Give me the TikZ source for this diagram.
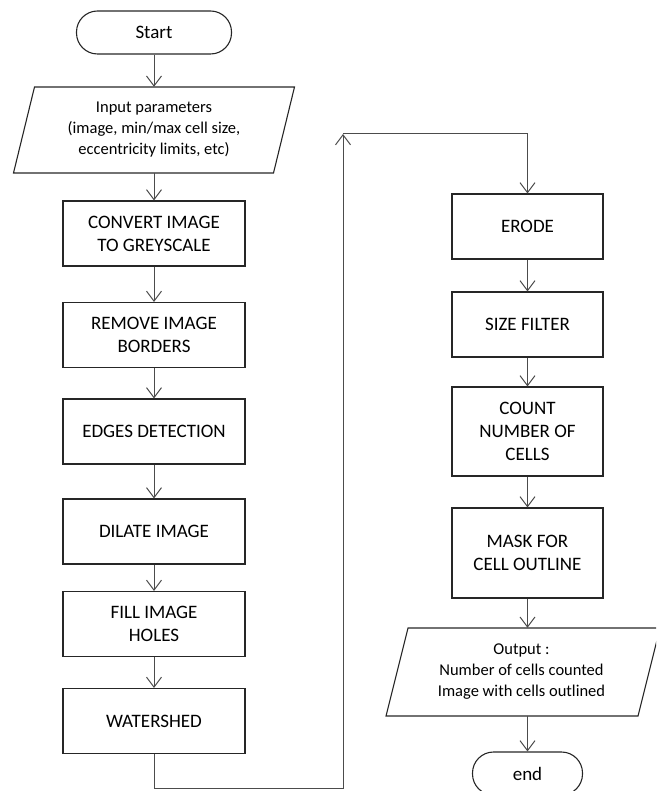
\documentclass[tikz,border=0pt]{standalone}
\usepackage{fontspec}
\setmainfont{Carlito}
\usetikzlibrary{arrows.meta}
\tikzset{
  boxl/.style={draw=black!85, line width=1.1pt, minimum width=182pt, minimum height=65pt, align=center, font=\fontsize{19}{23}\selectfont, inner sep=0pt},
  boxr/.style={boxl, minimum width=151pt},
  term/.style={draw=black!85, line width=1.1pt, rounded corners=21pt, minimum height=43pt, font=\fontsize{19}{23}\selectfont, inner sep=0pt},
  io/.style={align=center, font=\fontsize{16.5}{21}\selectfont, inner sep=0pt},
  para/.style={draw=black!85, line width=1.1pt},
  arr/.style={draw=black!70, line width=1pt, -{Straight Barb[length=10pt,width=15pt,line width=1pt]}},
  ln/.style={draw=black!70, line width=1pt}
}
\begin{document}
\begin{tikzpicture}[x=1pt,y=1pt]
\useasboundingbox (0,0) rectangle (656,-791);
\clip (0,0) rectangle (656,-791);
% left column
\node[term, minimum width=155pt] (st) at (154,-32.5) {Start};
\node[io, minimum width=260pt, minimum height=86pt] (in) at (154,-130) {Input parameters\\(image, min/max cell size,\\eccentricity limits, etc)};
\draw[para] (34.5,-87) -- (294.5,-87) -- (273.5,-173) -- (13.5,-173) -- cycle;
\node[boxl] (cv) at (154,-233.5) {CONVERT IMAGE\\TO GREYSCALE};
\node[boxl] (rm) at (154,-335) {REMOVE IMAGE\\BORDERS};
\node[boxl] (ed) at (154,-431.5) {EDGES DETECTION};
\node[boxl] (di) at (154,-531.5) {DILATE IMAGE};
\node[boxl] (fi) at (154,-624) {FILL IMAGE\\HOLES};
\node[boxl] (ws) at (154,-721) {WATERSHED};
% right column
\node[boxr] (er) at (527.5,-226.5) {ERODE};
\node[boxr] (sf) at (527.5,-324.5) {SIZE FILTER};
\node[boxr, minimum height=89pt] (cc) at (527.5,-431.5) {COUNT\\NUMBER OF\\CELLS};
\node[boxr, minimum height=90pt] (mk) at (527.5,-553) {MASK FOR\\CELL OUTLINE};
\node[io, minimum width=250pt, minimum height=88pt] (out) at (521.5,-672) {Output :\\Number of cells counted\\Image with cells outlined};
\draw[para] (408,-628) -- (660,-628) -- (638,-716) -- (386,-716) -- cycle;
\node[term, minimum width=110pt] (en) at (527.5,-773.5) {end};
% connectors
\coordinate (p1) at (343,-788);
\coordinate (p2) at (343,-134);
\draw[arr] (st) -- (in);
\draw[arr] (in) -- (cv);
\draw[arr] (cv) -- (rm);
\draw[arr] (rm) -- (ed);
\draw[arr] (ed) -- (di);
\draw[arr] (di) -- (fi);
\draw[arr] (fi) -- (ws);
\draw[arr] (ws.south) |- (p1) -- (p2);
\draw[arr] (p2) -| (er.north);
\draw[arr] (er) -- (sf);
\draw[arr] (sf) -- (cc);
\draw[arr] (cc) -- (mk);
\draw[arr] (mk.south) -- (mk.south |- out.north);
\draw[arr] (out.south -| en.north) -- (en.north);
\end{tikzpicture}
\end{document}
